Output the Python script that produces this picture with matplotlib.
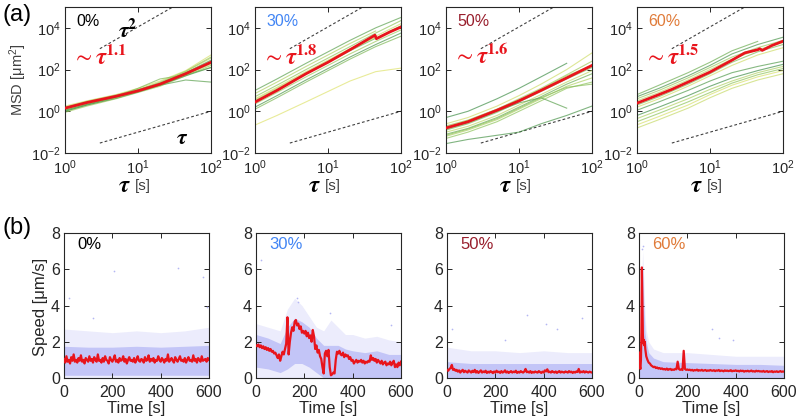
import numpy as np
import matplotlib
matplotlib.use('Agg')
import matplotlib.pyplot as plt
from matplotlib.colors import LinearSegmentedColormap
from matplotlib.ticker import FixedLocator, NullLocator, LogFormatterSciNotation

plt.rcParams['font.family'] = ['Liberation Sans', 'DejaVu Sans']
plt.rcParams['mathtext.fontset'] = 'custom'
plt.rcParams['mathtext.rm'] = 'Liberation Sans'
plt.rcParams['mathtext.it'] = 'Liberation Sans:italic'
plt.rcParams['mathtext.bf'] = 'Liberation Sans:bold'

# ---------------- data ----------------
labels = ['0%', '30%', '50%', '60%']
exponents = ['1.1', '1.8', '1.6', '1.5']

# MSD (log10 values) at these lag times
tau = [1, 2, 5, 10, 20, 45, 100]
nan = np.nan

msd_0 = [
    [0.00, 0.30, 0.65, 0.95, 1.30, 1.85, 2.45],
    [0.05, 0.35, 0.68, 0.95, 1.25, 1.75, 2.30],
    [0.10, 0.38, 0.70, 1.00, 1.35, 1.90, 2.55],
    [0.20, 0.48, 0.78, 1.05, 1.35, 1.85, 2.35],
    [0.25, 0.50, 0.80, 1.10, 1.45, 1.95, 2.70],
    [-0.05, 0.25, 0.60, 0.90, 1.20, 1.70, 2.20],
    [0.12, 0.40, 0.72, 1.10, 1.55, 1.75, 2.10],
    [0.00, 0.30, 0.62, 0.92, 1.25, 1.50, 1.40],
    [0.15, 0.45, 0.75, 1.02, 1.32, 1.82, 2.40],
    [0.08, 0.36, 0.66, 0.96, 1.28, 1.78, 2.25],
    [0.18, 0.42, 0.74, 1.02, 1.40, 1.92, 2.60],
    [0.05, 0.33, 0.68, 0.97, 1.26, 1.70, 2.10],
]
msd_30 = [
    [1.00, 1.55, 2.30, 2.85, 3.40, 4.00, 4.50],
    [0.85, 1.40, 2.15, 2.70, 3.25, 3.85, nan],
    [0.70, 1.25, 2.00, 2.55, 3.10, 3.75, 4.35],
    [0.60, 1.15, 1.90, 2.45, 3.00, 3.60, 4.20],
    [0.50, 1.05, 1.80, 2.35, 2.90, 3.50, 4.10],
    [0.35, 0.90, 1.65, 2.20, 2.75, 3.35, 3.90],
    [0.20, 0.75, 1.50, 2.05, 2.60, 3.20, 3.75],
    [0.10, 0.65, 1.40, 1.95, 2.50, 3.10, 3.60],
    [0.55, 1.10, 1.85, 2.40, 2.95, 3.55, nan],
    [-0.66, -0.20, 0.45, 0.95, 1.45, 1.90, 2.07],
]
msd_50 = [
    [-0.30, 0.00, 0.60, 1.10, 1.65, 2.30, nan],
    [-0.60, -0.30, 0.25, 0.75, 1.30, 2.00, 2.80],
    [-0.70, -0.42, 0.10, 0.60, 1.10, 1.75, 2.40],
    [-0.90, -0.60, -0.05, 0.45, 0.95, 1.55, 2.10],
    [-1.00, -0.72, -0.20, 0.30, 0.80, 1.40, 1.95],
    [-1.10, -0.82, -0.30, 0.20, 0.70, 1.30, 1.80],
    [-1.20, -0.90, -0.40, 0.10, 0.60, 1.20, 1.60],
    [-1.30, -1.00, -0.50, 0.00, 0.50, 1.10, 1.40],
    [-1.55, -1.35, -1.15, -1.00, -0.60, -0.20, 0.25],
    [-0.85, -0.55, 0.00, 0.40, 0.65, 0.15, nan],
    [-0.75, -0.45, 0.10, 0.55, 1.05, 1.70, 2.20],
    [-1.15, -0.85, -0.35, 0.15, 0.65, 1.15, 1.30],
]
msd_60 = [
    [0.80, 1.25, 1.85, 2.35, 2.90, 3.35, nan],
    [0.70, 1.10, 1.70, 2.20, 2.75, 3.20, 3.55],
    [0.60, 1.00, 1.60, 2.10, 2.60, 3.05, 3.40],
    [0.50, 0.90, 1.50, 2.00, 2.50, 2.95, 3.30],
    [0.30, 0.70, 1.30, 1.80, 2.35, 2.85, 3.20],
    [0.20, 0.60, 1.20, 1.70, 2.20, 2.70, 3.05],
    [0.05, 0.45, 1.00, 1.45, 1.85, 2.15, 2.40],
    [-0.20, 0.20, 0.75, 1.20, 1.60, 1.95, 2.25],
    [-0.35, 0.05, 0.60, 1.05, 1.45, 1.85, 2.15],
    [-0.50, -0.10, 0.45, 0.90, 1.35, 1.75, 2.05],
    [-0.65, -0.25, 0.30, 0.80, 1.25, 1.65, 1.95],
    [-0.80, -0.40, 0.15, 0.65, 1.10, 1.50, 1.80],
]

# ensemble-mean MSD (log10)
tau_mean_0 = [1, 2, 5, 10, 20, 45, 100]
mean_0 = [0.15, 0.42, 0.72, 0.98, 1.30, 1.80, 2.35]
tau_mean_30 = [1, 2, 5, 10, 20, 44, 46, 70, 100]
mean_30 = [0.44, 1.00, 1.80, 2.35, 2.95, 3.65, 3.48, 3.80, 4.04]
tau_mean_50 = [1, 2, 5, 10, 20, 45, 100]
mean_50 = [-0.80, -0.50, 0.05, 0.50, 1.00, 1.60, 2.20]
tau_mean_60 = [1, 2, 3, 5, 10, 20, 30, 45, 48, 52, 70, 100]
mean_60 = [0.39, 0.80, 1.05, 1.40, 1.88, 2.45, 2.80, 2.95, 3.00, 2.92, 3.15, 3.36]

# guide lines
tau_sq = [3, 30]
guide_sq = [1e3, 1e5]
tau_lin = [3, 100]
guide_lin = [3e-2, 1.0]

# speed traces
time_5s = list(range(0, 601, 5))
speed_0 = [1.05,0.85,1.2,0.9,1.0,0.8,1.15,0.95,1.3,0.9,1.0,0.85,1.1,0.95,1.25,0.9,1.0,0.8,1.1,1.0,
           0.9,1.2,0.95,1.05,0.85,1.15,1.0,0.9,1.3,0.95,1.0,0.85,1.1,0.9,1.2,1.0,0.95,0.8,1.15,1.0,
           0.9,1.05,1.25,0.9,1.0,0.85,1.1,0.95,1.0,1.2,0.9,1.05,0.8,1.0,1.15,0.95,1.0,0.9,1.1,0.85,
           1.0,1.2,0.95,0.9,1.05,1.0,0.85,1.15,0.95,1.0,1.25,0.9,1.05,0.95,1.1,0.85,1.0,0.95,1.2,1.0,
           0.9,1.1,1.0,0.85,1.05,0.95,1.3,0.9,1.0,1.1,0.95,0.85,1.15,1.0,0.9,1.05,1.2,0.95,1.0,0.9,
           1.1,0.85,1.0,1.15,0.95,1.0,0.9,1.25,0.95,1.05,0.85,1.1,1.0,0.9,1.2,0.95,1.0,1.05,0.9,1.1,1.0]
speed_30 = [1.8,1.75,1.85,1.7,1.8,1.65,1.75,
            1.6,1.7,1.55,1.65,1.5,1.6,
            1.45,1.5,1.35,1.4,1.25,1.1,1.3,
            0.95,1.2,1.45,1.3,1.6,1.9,
            3.35,1.3,2.0,2.5,2.8,2.6,3.1,
            3.2,2.9,3.0,2.7,2.85,2.5,2.6,
            2.45,2.6,2.3,2.5,2.2,2.35,2.0,
            2.65,2.3,1.6,1.8,1.4,1.55,1.2,
            1.05,0.6,0.25,1.35,1.5,1.2,1.55,
            0.6,0.15,0.2,0.3,0.25,1.0,1.45,
            1.35,1.5,1.3,1.25,1.4,1.15,1.3,
            1.2,1.25,1.05,1.15,0.95,1.0,0.8,
            0.9,1.0,0.85,0.95,0.9,1.0,0.85,
            0.95,0.8,0.9,0.85,0.95,0.9,1.25,
            1.0,1.1,0.95,1.05,0.85,1.0,0.9,
            0.8,0.95,0.75,0.85,0.9,0.7,0.8,
            0.75,0.9,0.7,0.85,0.95,0.6,0.75,
            0.6,0.85,0.7,0.9]
speed_50 = [0.45,0.4,0.5,0.55,0.72,0.45,0.5,0.4,0.45,0.35,0.42,0.3,0.38,0.45,0.32,0.4,0.35,0.3,0.42,0.36,
            0.3,0.4,0.33,0.45,0.3,0.38,0.28,0.35,0.42,0.3,0.36,0.32,0.4,0.28,0.35,0.3,0.38,0.33,0.27,0.36,
            0.3,0.4,0.32,0.35,0.28,0.38,0.3,0.34,0.42,0.3,0.36,0.28,0.33,0.38,0.3,0.35,0.32,0.4,0.28,0.34,
            0.3,0.38,0.33,0.3,0.36,0.5,0.32,0.35,0.3,0.38,0.28,0.34,0.3,0.36,0.32,0.3,0.38,0.33,0.28,0.35,
            0.3,0.42,0.36,0.48,0.32,0.35,0.3,0.38,0.33,0.3,0.36,0.28,0.34,0.38,0.3,0.35,0.32,0.3,0.36,0.33,
            0.3,0.38,0.32,0.35,0.28,0.34,0.3,0.36,0.33,0.5,0.3,0.35,0.32,0.38,0.3,0.36,0.33,0.3,0.35,0.32,0.3]
time_60 = list(range(0, 31, 2)) + list(range(35, 601, 5))
speed_60 = [1.4,1.2,0.6,0.5,1.0,2.5,6.1,4.2,2.4,1.9,2.1,1.8,2.0,1.6,1.4,1.2,
            1.0,0.85,0.8,0.7,0.65,0.6,0.62,0.55,0.58,0.52,0.55,0.5,0.53,0.48,
            0.5,0.46,0.52,0.45,0.48,0.5,0.44,0.47,0.45,0.5,
            0.48,0.9,0.5,0.45,0.48,0.44,1.5,0.5,0.45,0.47,
            0.44,0.46,0.42,0.45,0.4,0.44,0.42,0.46,0.4,0.43,0.41,0.45,0.4,0.42,0.44,0.39,0.42,0.4,0.44,0.41,
            0.4,0.43,0.38,0.42,0.4,0.44,0.38,0.41,0.4,0.37,0.42,0.39,0.41,0.38,0.4,0.43,0.37,0.4,0.39,0.42,
            0.38,0.4,0.36,0.41,0.38,0.4,0.35,0.39,0.37,0.4,0.36,0.38,0.41,0.36,0.38,0.35,0.4,0.37,0.39,0.36,
            0.37,0.35,0.39,0.34,0.36,0.38,0.33,0.36,0.35,0.38,0.32,0.36,0.34,0.37,0.33,0.35,0.38,0.34,0.36,0.35]

# single-cell speed cloud envelopes (dense core / sparse halo upper edges)
band_t_0 = [0, 100, 200, 300, 400, 500, 600]
core_lo_0 = [0.15, 0.15, 0.15, 0.15, 0.15, 0.15, 0.15]
core_hi_0 = [1.75, 1.7, 1.7, 1.75, 1.7, 1.75, 1.8]
halo_hi_0 = [2.7, 2.6, 2.5, 2.6, 2.5, 2.6, 2.8]
band_t_30 = [0, 50, 100, 130, 160, 190, 220, 250, 280, 310, 340, 370, 400, 450, 500, 550, 600]
core_lo_30 = [0.6, 0.5, 0.3, 0.5, 0.8, 0.8, 0.6, 0.3, 0.0, 0.0, 0.0, 0.0, 0.0, 0.0, 0.0, 0.0, 0.0]
core_hi_30 = [2.4, 2.2, 1.9, 2.8, 3.3, 3.1, 2.8, 2.2, 1.8, 1.8, 1.8, 1.6, 1.5, 1.4, 1.5, 1.3, 1.3]
halo_hi_30 = [3.0, 2.8, 2.6, 3.8, 4.4, 4.0, 3.4, 2.8, 2.6, 3.2, 2.8, 2.4, 2.4, 2.2, 2.3, 2.1, 2.0]
band_t_50 = [0, 100, 200, 300, 400, 500, 600]
core_lo_50 = [0.0, 0.0, 0.0, 0.0, 0.0, 0.0, 0.0]
core_hi_50 = [0.9, 0.8, 0.8, 0.8, 0.8, 0.8, 0.8]
halo_hi_50 = [1.7, 1.5, 1.5, 1.4, 1.5, 1.4, 1.4]
band_t_60 = [0, 5, 10, 15, 20, 25, 30, 40, 60, 100, 200, 300, 400, 500, 600]
core_lo_60 = [0.0] * 15
core_hi_60 = [1.8, 1.5, 3.5, 6.2, 4.0, 2.5, 2.0, 1.4, 1.1, 0.9, 0.85, 0.8, 0.75, 0.75, 0.7]
halo_hi_60 = [2.4, 2.2, 5.0, 7.0, 5.5, 3.5, 2.6, 2.0, 1.6, 1.4, 1.4, 1.3, 1.2, 1.2, 1.2]

# isolated fast points
out_t_0 = [20, 205, 470, 575, 590, 120]
out_v_0 = [4.4, 5.9, 6.05, 5.6, 3.9, 3.3]
out_t_30 = [170, 175, 305, 20, 560]
out_v_30 = [4.4, 4.2, 3.6, 6.5, 2.9]
out_t_50 = [20, 330, 410, 455, 560, 240]
out_v_50 = [2.7, 3.5, 3.0, 2.7, 3.3, 2.1]
out_t_60 = [12, 15, 300, 330, 390]
out_v_60 = [7.1, 7.3, 2.7, 2.2, 2.1]

# ---------------- style ----------------
label_colors = ['black', '#4285f4', '#981e2c', '#e07b39']
red = '#e8141c'
dark = '#262626'
green_cmap = LinearSegmentedColormap.from_list('g', ['#3a8a47', '#8fc45a', '#dfe36e'])
green_order = [
    [0.1, 0.5, 0.8, 0.3, 0.95, 0.6, 0.4, 0.2, 0.7, 0.85, 0.55, 0.15],
    [0.2, 0.7, 0.5, 0.9, 0.3, 0.6, 0.1, 0.4, 0.8, 1.0],
    [0.05, 0.9, 0.6, 0.4, 0.8, 0.3, 0.7, 0.5, 0.1, 0.2, 0.65, 0.45],
    [0.3, 0.1, 0.6, 0.8, 0.4, 0.9, 0.15, 0.05, 0.7, 0.5, 0.95, 0.85],
]

W, H = 797, 420
fig = plt.figure(figsize=(W / 100, H / 100), dpi=100)

msd_sets = [msd_0, msd_30, msd_50, msd_60]
mean_tau = [tau_mean_0, tau_mean_30, tau_mean_50, tau_mean_60]
mean_sets = [mean_0, mean_30, mean_50, mean_60]
top_left = [65, 255, 446, 637]

def style_axes(ax, fs, xpad):
    for s in ax.spines.values():
        s.set_color(dark)
        s.set_linewidth(0.8)
    ax.tick_params(which='both', direction='in', top=True, right=True,
                   colors=dark, labelsize=fs, length=3.5, width=0.7, pad=3)
    ax.tick_params(axis='x', pad=xpad)

for i in range(4):
    ax = fig.add_axes([top_left[i] / W, (H - 153) / H, 146 / W, 146 / H])
    for j, row in enumerate(msd_sets[i]):
        ax.plot(tau, 10 ** np.array(row), color=green_cmap(green_order[i][j]),
                lw=0.8, alpha=0.7, zorder=2)
    ax.plot(mean_tau[i], 10 ** np.array(mean_sets[i]), color=red, lw=2.0, zorder=3)
    ax.plot(tau_sq, guide_sq, ls=(0, (2.5, 2)), color='#404040', lw=0.8, zorder=1)
    ax.plot(tau_lin, guide_lin, ls=(0, (2.5, 2)), color='#404040', lw=0.8, zorder=1)
    ax.set_xscale('log')
    ax.set_yscale('log')
    ax.set_xlim(1, 100)
    ax.set_ylim(1e-2, 1e5)
    ax.xaxis.set_major_locator(FixedLocator([1, 10, 100]))
    ax.yaxis.set_major_locator(FixedLocator([1e-2, 1, 1e2, 1e4]))
    ax.xaxis.set_minor_locator(NullLocator())
    ax.yaxis.set_minor_locator(NullLocator())
    ax.xaxis.set_major_formatter(LogFormatterSciNotation())
    ax.yaxis.set_major_formatter(LogFormatterSciNotation())
    style_axes(ax, 10.5, 4)
    ax.text(0.08, 0.9, labels[i], transform=ax.transAxes, color=label_colors[i],
            fontsize=11.5, va='center', ha='left')
    ax.text(0.05, 0.66, r'$\sim\boldsymbol{\tau}^{\mathbf{' + exponents[i] + '}}$',
            transform=ax.transAxes, color=red, fontsize=17, va='center', ha='left',
            math_fontfamily='stix')
    ax.text(0.41, -0.225, r'$\boldsymbol{\tau}$', transform=ax.transAxes, fontsize=17,
            ha='center', va='center', math_fontfamily='stix', color='black')
    ax.text(0.48, -0.225, '[s]', transform=ax.transAxes, fontsize=11,
            ha='left', va='center', color='#404040')
    if i == 0:
        ax.text(0.36, 0.83, r'$\boldsymbol{\tau}^{\mathbf{2}}$', transform=ax.transAxes,
                fontsize=16, ha='left', va='center', math_fontfamily='stix')
        ax.text(0.76, 0.1, r'$\boldsymbol{\tau}$', transform=ax.transAxes,
                fontsize=16, ha='left', va='center', math_fontfamily='stix')

fig.text(18 / W, 1 - 80 / H, r'MSD [μm$^2$]', rotation=90, ha='center', va='center',
         fontsize=10.5, color='#404040')
fig.text(3 / W, 1 - 15 / H, '(a)', fontsize=17, ha='left', va='center')
fig.text(3 / W, 1 - 228 / H, '(b)', fontsize=17, ha='left', va='center')

speed_t = [time_5s, time_5s, time_5s, time_60]
speed_sets = [speed_0, speed_30, speed_50, speed_60]
band_t = [band_t_0, band_t_30, band_t_50, band_t_60]
core_lo = [core_lo_0, core_lo_30, core_lo_50, core_lo_60]
core_hi = [core_hi_0, core_hi_30, core_hi_50, core_hi_60]
halo_hi = [halo_hi_0, halo_hi_30, halo_hi_50, halo_hi_60]
out_t = [out_t_0, out_t_30, out_t_50, out_t_60]
out_v = [out_v_0, out_v_30, out_v_50, out_v_60]
bot_left = [64, 256, 447, 639]

for i in range(4):
    ax = fig.add_axes([bot_left[i] / W, (H - 378) / H, 145 / W, 145 / H])
    ax.fill_between(band_t[i], 0, halo_hi[i], color='#ececfc', lw=0, zorder=1)
    ax.fill_between(band_t[i], core_lo[i], core_hi[i], color='#c3c5f7', lw=0, zorder=1.5)
    ax.scatter(out_t[i], out_v[i], s=1.5, color='#b4b6f3', lw=0, zorder=2)
    ax.plot(speed_t[i], speed_sets[i], color=red, lw=1.6, zorder=3)
    ax.set_xlim(0, 600)
    ax.set_ylim(0, 8)
    ax.set_xticks([0, 200, 400, 600])
    ax.set_yticks([0, 2, 4, 6, 8])
    style_axes(ax, 11.5, 5)
    ax.text(0.09, 0.92, labels[i], transform=ax.transAxes, color=label_colors[i],
            fontsize=12, va='center', ha='left')
    ax.set_xlabel('Time [s]', fontsize=12, color='#262626', labelpad=1)

fig.text(41 / W, 1 - 307 / H, 'Speed [μm/s]', rotation=90, ha='center', va='center',
         fontsize=12, color='#262626')

fig.savefig('out.png', dpi=100)
